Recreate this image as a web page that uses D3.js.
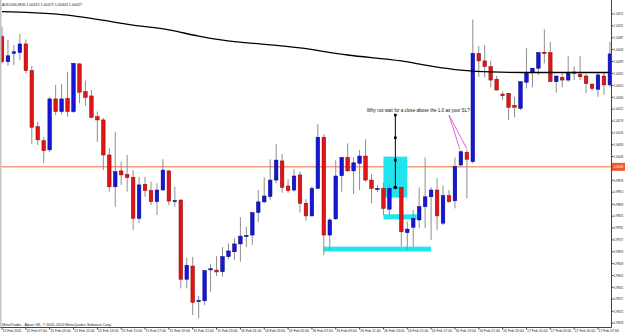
<!DOCTYPE html>
<html>
<head>
<meta charset="utf-8">
<script src="https://cdn.jsdelivr.net/npm/d3@7"></script>
<style>
  html, body { margin: 0; padding: 0; background: #fff; overflow: hidden; }
  svg { display: block; }
  text { font-family: "Liberation Sans Narrow", "Liberation Sans", Arial, sans-serif; }
</style>
</head>
<body>
<svg id="chart" width="625" height="334"></svg>
<script>
// --- data (AUDUSD M30, 15-17 Feb 2011) ---
const symbol = "AUDUSD,M30";
const opens = [1.00491,1.00398,1.00429,1.00432,1.00464,1.00365,1.00157,1.00105,1.00071,1.00260,
  1.00213,1.00262,1.00213,1.00390,1.00287,1.00271,1.00194,1.00182,1.00052,0.99934,
  0.99993,0.99980,0.99969,0.99817,0.99943,0.99920,0.99879,0.99922,0.99993,0.99881,
  0.99885,0.99591,0.99640,0.99510,0.99511,0.99627,0.99625,0.99619,0.99675,0.99693,
  0.99722,0.99752,0.99755,0.99839,0.99878,0.99898,0.99959,1.00030,0.99937,0.99922,
  0.99978,0.99873,0.99826,0.99928,1.00118,0.99755,0.99815,0.99975,1.00043,0.99993,
  1.00021,1.00048,0.99959,0.99926,0.99928,0.99851,0.99931,0.99932,0.99764,0.99784,
  0.99811,0.99860,0.99897,0.99922,0.99799,0.99901,0.99882,1.00015,1.00062,1.00027,
  1.00429,1.00401,1.00380,1.00333,1.00278,1.00281,1.00236,1.00225,1.00322,1.00357,
  1.00374,1.00433,1.00432,1.00324,1.00340,1.00330,1.00360,1.00352,1.00345,1.00315,
  1.00296,1.00345,1.00312];
const highs = [1.00528,1.00479,1.00460,1.00501,1.00481,1.00382,1.00176,1.00119,1.00267,1.00312,
  1.00315,1.00361,1.00393,1.00392,1.00328,1.00293,1.00213,1.00189,1.00078,1.00138,
  1.00027,1.00052,0.99996,0.99971,0.99971,0.99953,0.99947,1.00036,0.99996,0.99934,
  0.99887,0.99671,0.99674,0.99529,0.99625,0.99648,0.99677,0.99710,0.99724,0.99743,
  0.99821,0.99786,0.99839,0.99922,0.99970,1.00036,1.00093,1.00056,0.99962,0.99999,
  0.99990,0.99888,0.99937,1.00167,1.00129,0.99818,1.00033,1.00044,1.00095,1.00043,
  1.00071,1.00110,0.99982,0.99941,0.99949,0.99941,0.99937,0.99934,0.99805,0.99848,
  0.99932,1.00043,0.99932,0.99966,0.99938,0.99922,1.00043,1.00071,1.00071,1.00555,
  1.00456,1.00460,1.00402,1.00345,1.00287,1.00282,1.00268,1.00325,1.00448,1.00375,
  1.00433,1.00518,1.00472,1.00346,1.00355,1.00419,1.00380,1.00419,1.00352,1.00318,
  1.00357,1.00357,1.00472];
const lows = [1.00392,1.00383,1.00386,1.00404,1.00355,1.00093,1.00089,1.00022,1.00063,1.00200,
  1.00203,1.00194,1.00208,1.00244,1.00234,1.00188,1.00101,0.99996,0.99916,0.99860,
  0.99941,0.99916,0.99774,0.99799,0.99897,0.99866,0.99829,0.99920,0.99866,0.99860,
  0.99557,0.99557,0.99458,0.99446,0.99495,0.99545,0.99603,0.99600,0.99665,0.99662,
  0.99656,0.99710,0.99718,0.99803,0.99873,0.99885,0.99947,0.99912,0.99912,0.99916,
  0.99838,0.99808,0.99824,0.99926,0.99681,0.99700,0.99811,0.99916,0.99990,0.99907,
  0.99922,0.99953,0.99873,0.99915,0.99829,0.99829,0.99922,0.99712,0.99700,0.99712,
  0.99780,0.99780,0.99737,0.99774,0.99792,0.99875,0.99854,1.00009,0.99891,1.00021,
  1.00342,1.00340,1.00303,1.00291,1.00256,1.00182,1.00192,1.00219,1.00299,1.00303,
  1.00349,1.00392,1.00322,1.00283,1.00303,1.00324,1.00330,1.00330,1.00281,1.00291,
  1.00268,1.00275,1.00303];
const closes = [1.00398,1.00420,1.00435,1.00464,1.00365,1.00155,1.00108,1.00068,1.00260,1.00213,
  1.00260,1.00213,1.00392,1.00285,1.00266,1.00192,1.00182,1.00052,0.99934,0.99990,
  0.99978,0.99969,0.99817,0.99941,0.99920,0.99879,0.99922,0.99996,0.99881,0.99883,
  0.99591,0.99643,0.99505,0.99513,0.99623,0.99630,0.99618,0.99675,0.99696,0.99722,
  0.99751,0.99754,0.99838,0.99878,0.99900,0.99959,1.00033,0.99932,0.99920,0.99974,
  0.99873,0.99826,0.99928,1.00118,0.99755,0.99811,0.99974,1.00043,0.99993,1.00023,
  1.00048,0.99959,0.99928,0.99928,0.99854,0.99928,0.99933,0.99767,0.99777,0.99817,
  0.99860,0.99897,0.99922,0.99826,0.99901,0.99879,1.00009,1.00064,1.00036,1.00429,
  1.00401,1.00380,1.00330,1.00293,1.00272,1.00229,1.00229,1.00324,1.00357,1.00374,
  1.00432,1.00428,1.00324,1.00345,1.00330,1.00357,1.00355,1.00342,1.00317,1.00299,
  1.00349,1.00312,1.00427];

// moving average, read at a few bars
const maBars   = [0, 5, 11, 16, 22, 28, 33, 35, 50, 58, 67, 72, 77, 82, 90, 102];
const maValues = [1.00584,1.00580,1.00571,1.00555,1.00534,1.00516,1.00493,1.00485,
  1.00449,1.00423,1.00401,1.00382,1.00367,1.00360,1.00358,1.00358];

const timeLabels = ["15 Feb 2011","15 Feb 07:00","15 Feb 09:00","15 Feb 11:00","15 Feb 13:00",
  "15 Feb 15:00","15 Feb 17:00","15 Feb 19:00","15 Feb 21:00","15 Feb 23:00",
  "16 Feb 01:00","16 Feb 03:00","16 Feb 05:00","16 Feb 07:00","16 Feb 09:00",
  "16 Feb 11:00","16 Feb 13:00","16 Feb 15:00","16 Feb 17:00","16 Feb 19:00",
  "16 Feb 21:00","16 Feb 23:00","17 Feb 01:00","17 Feb 03:00","17 Feb 05:00","17 Feb 07:00"];
const barsPerLabel = 4;

const priceLabels = ["1.00575","1.00531","1.00487","1.00443","1.00399","1.00355","1.00310",
  "1.00266","1.00222","1.00178","1.00134","1.00090","1.00046","0.99958","0.99914",
  "0.99869","0.99825","0.99781","0.99737","0.99693","0.99649","0.99605","0.99561",
  "0.99517","0.99472","0.99428"];

const levelPrice = 1.00008;
// rectangles: [fromBar, toBar, top price, bottom price]
const zones = [[64, 68, 1.00046, 0.99894], [64, 69.6, 0.99832, 0.99813], [54, 72, 0.99712, 0.99694]];
// vertical marker at bar 66
const markerBar = 66;
const markerPrices = [1.00200, 1.00116, 1.00033, 0.99932];
const noteText = "Why not wait for a close above the 1.0 as your SL?";
const noteBar = 61.2, notePrice = 1.00216;
const arrowFrom = [75.0, 1.00200];
const arrowTo = [[76.8, 1.00075], [78.0, 1.00075]];

// --- setup ---
const W = 625, H = 334;
const plotRight = 611.5, plotBottom = 327.5;
const svg = d3.select("#chart");
const x = d3.scaleLinear().domain([0, 102]).range([2, 609.9]);
const y = d3.scaleLinear().domain([1.00627, 0.99400]).range([0, 330.73]);

svg.append("rect").attr("width", W).attr("height", H).attr("fill", "#fff");
svg.append("defs").append("clipPath").attr("id", "clip")
  .append("rect").attr("x", 0).attr("y", 0).attr("width", plotRight).attr("height", plotBottom);

function tinyText(g, str, tx, ty, len, size, fill) {
  return g.append("text").attr("x", tx).attr("y", ty)
    .attr("font-size", size).attr("fill", fill || "#000")
    .attr("textLength", len).attr("lengthAdjust", "spacingAndGlyphs")
    .text(str);
}

const plot = svg.append("g").attr("clip-path", "url(#clip)");

// level line
plot.append("line").attr("x1", 0).attr("x2", plotRight)
  .attr("y1", y(levelPrice)).attr("y2", y(levelPrice))
  .attr("stroke", "#ef6b3a").attr("stroke-width", 1);

// cyan zones
plot.selectAll("rect.zone").data(zones).enter().append("rect").attr("class", "zone")
  .attr("x", d => x(d[0])).attr("width", d => x(d[1]) - x(d[0]))
  .attr("y", d => y(d[2])).attr("height", d => y(d[3]) - y(d[2]))
  .attr("fill", "#22e4ee");

// candles
const bars = d3.range(opens.length);
plot.selectAll("line.wick").data(bars).enter().append("line").attr("class", "wick")
  .attr("x1", i => x(i)).attr("x2", i => x(i))
  .attr("y1", i => y(highs[i])).attr("y2", i => y(lows[i]))
  .attr("stroke", "#8e8e8e").attr("stroke-width", 1);

const bodyW = 3.6;
plot.selectAll("rect.body").data(bars).enter().append("rect").attr("class", "body")
  .attr("x", i => x(i) - bodyW / 2).attr("width", bodyW)
  .attr("y", i => y(Math.max(opens[i], closes[i])))
  .attr("height", i => Math.max(1.2, Math.abs(y(opens[i]) - y(closes[i]))))
  .attr("fill", i => closes[i] >= opens[i] ? "#1616d6" : "#e01616")
  .attr("stroke", i => closes[i] >= opens[i] ? "#05057a" : "#8c0505")
  .attr("stroke-width", 0.5);

// moving average
const maLine = d3.line().x(d => x(d[0])).y(d => y(d[1])).curve(d3.curveMonotoneX);
plot.append("path").datum(maBars.map((b, k) => [b, maValues[k]]))
  .attr("d", maLine).attr("fill", "none").attr("stroke", "#000").attr("stroke-width", 1.3);

// black marker
plot.append("line").attr("x1", x(markerBar)).attr("x2", x(markerBar))
  .attr("y1", y(d3.max(markerPrices))).attr("y2", y(d3.min(markerPrices)))
  .attr("stroke", "#000").attr("stroke-width", 1);
plot.selectAll("rect.node").data(markerPrices).enter().append("rect").attr("class", "node")
  .attr("x", x(markerBar) - 1.3).attr("y", d => y(d) - 1.3)
  .attr("width", 2.6).attr("height", 2.6).attr("fill", "#000");

// magenta pointers
plot.selectAll("line.arrow").data(arrowTo).enter().append("line").attr("class", "arrow")
  .attr("x1", x(arrowFrom[0])).attr("y1", y(arrowFrom[1]))
  .attr("x2", d => x(d[0])).attr("y2", d => y(d[1]))
  .attr("stroke", "#d040d0").attr("stroke-width", 0.8);

tinyText(plot, noteText, x(noteBar), y(notePrice) + 1.6, 103, 4.6, "#111");

// --- axes ---
const axes = svg.append("g");
axes.append("line").attr("x1", plotRight).attr("x2", plotRight).attr("y1", 0).attr("y2", plotBottom)
  .attr("stroke", "#444").attr("stroke-width", 1);
axes.append("line").attr("x1", 0).attr("x2", plotRight).attr("y1", plotBottom).attr("y2", plotBottom)
  .attr("stroke", "#444").attr("stroke-width", 1);
axes.append("rect").attr("x", 0).attr("y", 0).attr("width", 1.5).attr("height", plotBottom)
  .attr("fill", "#c4c4c4");

// price labels
priceLabels.forEach(p => {
  const py = y(+p);
  axes.append("line").attr("x1", plotRight).attr("x2", plotRight + 2)
    .attr("y1", py).attr("y2", py).attr("stroke", "#444");
  tinyText(axes, p, plotRight + 2.2, py + 1.3, 9.6, 3.5, "#222");
});

// level tag
const ly = y(levelPrice);
axes.append("rect").attr("x", plotRight + 0.5).attr("y", ly - 4).attr("width", W - plotRight)
  .attr("height", 8).attr("fill", "#ef5a28");
tinyText(axes, levelPrice.toFixed(5), plotRight + 2.2, ly + 1.3, 9.6, 3.5, "#fff");

// time labels
timeLabels.forEach((t, k) => {
  const tx = x(k * barsPerLabel);
  axes.append("line").attr("x1", tx).attr("x2", tx)
    .attr("y1", plotBottom).attr("y2", plotBottom + 2).attr("stroke", "#444");
  tinyText(axes, t, tx + 0.5, plotBottom + 4.6, k === 0 ? 19 : 20.5, 3.6, "#222");
});

// header and footer
const last = opens.length - 1;
tinyText(svg, `${symbol}  ${opens[last].toFixed(5)} ${highs[last].toFixed(5)} ${lows[last].toFixed(5)} ${closes[last].toFixed(5)}`,
  2, 5.6, 80, 4.2, "#222");
tinyText(svg, "MetaTrader - Alpari UK, \u00a9 2001-2010 MetaQuotes Software Corp.",
  2, 325.6, 110, 4.2, "#222");
</script>
</body>
</html>
